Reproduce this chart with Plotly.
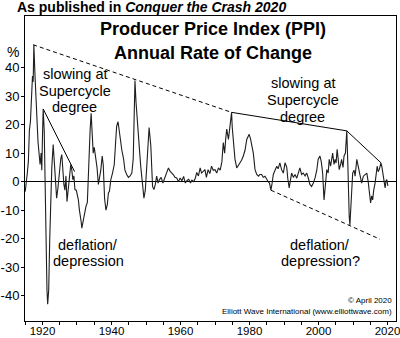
import plotly.graph_objects as go

# Producer Price Index, annual rate of change (%)
years = [
    1915.0, 1915.3, 1915.6, 1915.9, 1916.2, 1916.5, 1916.8, 1917.1, 1917.3, 1917.5,
    1917.8, 1918.1, 1918.4, 1918.7, 1919.0, 1919.3, 1919.6, 1919.8, 1920.0, 1920.2,
    1920.5, 1920.8, 1921.0, 1921.3, 1921.5, 1921.8, 1922.1, 1922.4, 1922.7, 1923.1,
    1923.5, 1923.8, 1924.1, 1924.5, 1924.9, 1925.3, 1925.6, 1925.9, 1926.2, 1926.5,
    1926.8, 1927.1, 1927.4, 1927.8, 1928.2, 1928.5, 1928.8, 1929.1, 1929.4, 1929.8,
    1930.1, 1930.4, 1930.7, 1930.9, 1931.2, 1931.4, 1931.6, 1931.8, 1932.2, 1932.6,
    1933.0, 1933.2, 1933.5, 1933.8, 1934.1, 1934.4, 1934.7, 1935.0, 1935.4, 1935.8,
    1936.2, 1936.6, 1936.9, 1937.3, 1937.6, 1938.0, 1938.4, 1938.8, 1939.1, 1939.4,
    1939.8, 1940.3, 1940.8, 1941.2, 1941.5, 1941.9, 1942.3, 1942.7, 1943.0, 1943.5,
    1943.9, 1944.4, 1944.9, 1945.4, 1945.9, 1946.3, 1946.6, 1946.8, 1947.1, 1947.5,
    1947.8, 1948.1, 1948.5, 1948.8, 1949.1, 1949.4, 1949.8, 1950.2, 1950.6, 1950.9,
    1951.4, 1951.7, 1951.9, 1952.3, 1952.7, 1953.1, 1953.5, 1953.9, 1954.4, 1954.9,
    1955.4, 1955.9, 1956.5, 1957.0, 1957.5, 1957.9, 1958.4, 1958.9, 1959.4, 1959.9,
    1960.4, 1960.9, 1961.4, 1961.9, 1962.4, 1962.9, 1963.3, 1963.8, 1964.3, 1964.7,
    1965.2, 1965.7, 1966.1, 1966.6, 1967.1, 1967.5, 1968.0, 1968.5, 1969.0, 1969.5,
    1970.0, 1970.5, 1971.0, 1971.5, 1972.0, 1972.4, 1972.8, 1973.1, 1973.4, 1973.9,
    1974.2, 1974.5, 1974.8, 1975.0, 1975.3, 1975.8, 1976.3, 1976.7, 1977.2, 1977.7,
    1978.2, 1978.7, 1979.2, 1979.9, 1980.3, 1980.6, 1981.1, 1981.6, 1982.1, 1982.6,
    1983.0, 1983.5, 1984.0, 1984.5, 1985.0, 1985.5, 1985.8, 1986.2, 1986.5, 1986.9,
    1987.4, 1987.9, 1988.3, 1988.8, 1989.3, 1989.8, 1990.3, 1990.8, 1991.1, 1991.5,
    1991.8, 1992.2, 1992.7, 1993.2, 1993.7, 1994.2, 1994.6, 1995.1, 1995.6, 1996.1,
    1996.6, 1997.1, 1997.5, 1998.0, 1998.5, 1999.0, 1999.5, 1999.9, 2000.4, 2000.8,
    2001.2, 2001.6, 2001.9, 2002.4, 2002.8, 2003.1, 2003.5, 2004.1, 2004.5, 2004.8,
    2005.1, 2005.4, 2005.7, 2006.0, 2006.4, 2006.7, 2007.1, 2007.4, 2007.8, 2008.2,
    2008.5, 2008.7, 2008.9, 2009.1, 2009.4, 2009.7, 2009.9, 2010.3, 2010.6, 2011.1,
    2011.5, 2012.0, 2012.5, 2013.0, 2013.5, 2014.0, 2014.4, 2014.7, 2015.1, 2015.4,
    2015.7, 2016.0, 2016.4, 2017.0, 2017.3, 2017.6, 2018.1, 2018.4, 2018.6, 2019.0,
    2019.3, 2019.6, 2019.8, 2020.1,
]
ppi_change = [
    -3.5, -1, 3, 7, 18, 21, 30, 37, 35, 48,
    38, 26, 22, 14, 8, 6, 10, 4, 16, 25.5,
    18, -5, -25, -38, -43, -38, -20, -5, 5, 13,
    6, 0, -5.8, -2, 4.5, 8, 9.5, 3, -1, -3,
    2, -7, -3, 3, 6, 4, 0.7, 2, -2.8, -3,
    -5, -6.4, -10, -12.7, -14, -16.3, -15, -13.4, -11, -8.7,
    -7.3, 0, 12, 18, 24, 15, 10, 12, 9, 5,
    -1, 2, 4, 9, 6, -6, -10, -8, -4, -3.4,
    0.7, 3, 6, 14, 19.5, 21, 17, 13, 11, 8,
    4, 2.5, 1.5, 2, 3, 8, 20, 35.5, 28, 19.5,
    17, 11.3, 5, 0.7, -4, -5.8, -3, 4.2, 12, 19,
    12.5, 5, -1.7, -2.8, -1, 1.9, -0.5, 0.7, 1.5, -0.5,
    1, 3, 4.8, 3.6, 3, 2.5, 1.5, 1.3, 0, 1.3,
    0.3, 1.8, -0.5, 0.4, 0.8, -0.5, 0.5, 0, 1.2, 3.2,
    2, 4.8, 3, 3.5, 4.2, 1.5, 4.2, 2.8, 5.4, 4,
    4.2, 3, 4.8, 4, 7, 13.7, 10, 15, 18.4, 14.8,
    18, 20, 24.3, 19, 13.7, 7.8, 4.8, 5.5, 6.6, 7.5,
    9, 11, 14.8, 16.6, 15, 13, 10, 4.2, 2.5, 1.9,
    2.5, 2.5, 1.5, 1.9, 0.7, -0.2, -0.5, -3, -1, 2.5,
    4, 5.4, 4.5, 6.6, 4.2, 3, 6.6, 5, 1, -2.2,
    0, 3, 1.5, 2.5, 1.2, 3, 4.8, 2.5, 3, 2,
    3, 1, -1, -1.7, -0.5, 1.3, 4, 7.8, 9, 7,
    3, -6.4, -3, 4.2, 3, 7.8, 5.4, 10, 6, 7.8,
    6.5, 11.3, 8, 4.2, 6, 7.8, 5, 9, 10, 17.8,
    6, -8.7, -12.3, -15.2, -6, 2, 3, 4, 1.9, 7.8,
    5, 2.5, -0.5, 1.9, 2.5, 3, 0, -4, -7.5, -5,
    -6.4, -3, -0.5, 5.4, 3.5, 4.2, 6.6, 5, 3, 0.7,
    -2.2, 0.5, 0.7, -1.5,
]

# Trend lines joining the major peaks and troughs
peak_line_years = [1917.3, 1974.8]          # dashed, 1917 peak to 1974 peak
peak_line_values = [48.0, 24.3]
later_peak_years = [1974.8, 2008.2, 2018.1]  # solid, 1974 -> 2008 -> 2018 peaks
later_peak_values = [24.3, 17.8, 6.6]
early_slope_years = [1920.2, 1929.3]         # solid, 1920 peak falling away
early_slope_values = [25.5, 3.5]
trough_line_years = [1986.2, 2017.8]         # dashed, 1986 trough downward
trough_line_values = [-3.0, -20.2]

x_tick_years = [1920, 1940, 1960, 1980, 2000, 2020]
y_tick_values = [-40, -30, -20, -10, 0, 10, 20, 30, 40]
y_tick_labels = [str(v) for v in y_tick_values]  # plain hyphen minus signs

FONT = "Liberation Sans, Arial, Helvetica, sans-serif"

fig = go.Figure()
fig.add_trace(go.Scatter(x=years, y=ppi_change, mode="lines",
                         line=dict(color="#1e1e1e", width=1.1), hoverinfo="skip"))
fig.add_trace(go.Scatter(x=peak_line_years, y=peak_line_values, mode="lines",
                         line=dict(color="black", width=1, dash="4px,3px")))
fig.add_trace(go.Scatter(x=later_peak_years, y=later_peak_values, mode="lines",
                         line=dict(color="black", width=1)))
fig.add_trace(go.Scatter(x=early_slope_years, y=early_slope_values, mode="lines",
                         line=dict(color="black", width=1)))
fig.add_trace(go.Scatter(x=trough_line_years, y=trough_line_values, mode="lines",
                         line=dict(color="black", width=1, dash="4px,3px")))

annotations = []


def note(text, x, y, size=14.5, xref="x", yref="y", xanchor="center", bold=False):
    annotations.append(dict(
        text=f"<b>{text}</b>" if bold else text, x=x, y=y, xref=xref, yref=yref,
        xanchor=xanchor, yanchor="middle", showarrow=False,
        font=dict(family=FONT, size=size, color="black")))


# Chart headings
note("As published in <i>Conquer the Crash 2020</i>", -0.026, 1.031,
     size=14, xref="paper", yref="paper", xanchor="left", bold=True)
note("Producer Price Index (PPI)", 0.507, 0.957, size=18,
     xref="paper", yref="paper", bold=True)
note("Annual Rate of Change", 0.507, 0.878, size=18,
     xref="paper", yref="paper", bold=True)

# Commentary text
for text, yv in zip(["slowing at", "Supercycle", "degree"], [37.6, 31.9, 26.2]):
    note(text, 1929.4, yv)
for text, yv in zip(["slowing at", "Supercycle", "degree"], [34.6, 28.6, 22.8]):
    note(text, 1995.5, yv)
for text, yv in zip(["deflation/", "depression"], [-22.4, -27.8]):
    note(text, 1933.2, yv)
for text, yv in zip(["deflation/", "depression?"], [-22.3, -27.8]):
    note(text, 2000.5, yv)

# Unit label and credits
note("%", -0.031, 45.3, size=14, xref="paper")
note("© April 2020", 0.994, -41.8, size=8, xref="paper", xanchor="right")
note("Elliott Wave International (www.elliottwave.com)", 0.994, -45.6,
     size=8, xref="paper", xanchor="right")

fig.update_layout(
    width=400, height=338,
    margin=dict(l=25, r=4, t=16, b=17, autoexpand=False),
    paper_bgcolor="white", plot_bgcolor="white",
    showlegend=False,
    font=dict(family=FONT, size=13, color="black"),
    annotations=annotations,
    xaxis=dict(
        range=[1914.93, 2022.46], tickvals=x_tick_years,
        ticks="outside", ticklen=3, tickcolor="black", tickwidth=1,
        minor=dict(dtick=5, tick0=1915, ticks="outside", ticklen=3,
                   tickcolor="black", showgrid=False),
        showgrid=False, zeroline=False,
        showline=True, mirror=True, linecolor="black", linewidth=1,
        tickfont=dict(family=FONT, size=11.5, color="black"),
        ticklabeloverflow="allow", ticklabelstandoff=-4,
        automargin=False,
    ),
    yaxis=dict(
        range=[-48.9, 58.1], tickvals=y_tick_values, ticktext=y_tick_labels,
        ticks="outside", ticklen=3, tickcolor="black", tickwidth=1,
        showgrid=False,
        zeroline=True, zerolinecolor="black", zerolinewidth=1.3,
        showline=True, mirror=True, linecolor="black", linewidth=1,
        tickfont=dict(family=FONT, size=13, color="black"),
        ticklabeloverflow="allow", ticklabelstandoff=-1,
        automargin=False,
    ),
)

fig.write_html("out.html")
